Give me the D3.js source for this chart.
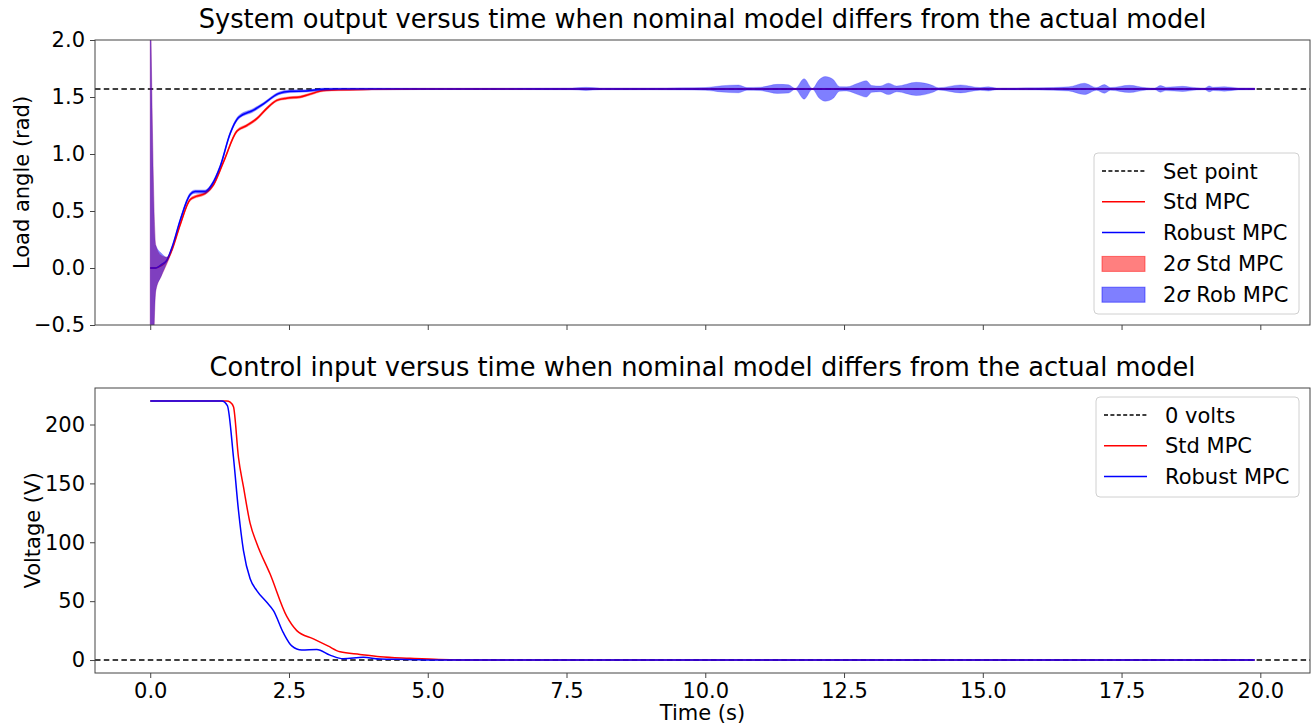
<!DOCTYPE html>
<html>
<head>
<meta charset="utf-8">
<script src="https://cdn.jsdelivr.net/npm/d3@7"></script>
<style>
  body { margin: 0; background: #fff; }
  svg { display: block; font-family: "DejaVu Sans", sans-serif; }
</style>
</head>
<body>
<svg id="chart" width="1312" height="725"></svg>
<script>
/* System output / control input, nominal vs actual model — two stacked panels */

const SET_POINT = 1.5708;
const X_TICKS = [0, 2.5, 5, 7.5, 10, 12.5, 15, 17.5, 20];
const Y_TICKS_TOP = [-0.5, 0, 0.5, 1.0, 1.5, 2.0];
const Y_TICKS_BOT = [0, 50, 100, 150, 200];

// Std MPC load angle: time, mean, 2-sigma half width
const stdT    = [0, 0.1, 0.2, 0.3, 0.4, 0.54, 0.72, 0.84, 0.99, 1.14, 1.32, 1.56, 1.74, 1.92, 2.1, 2.28, 2.46, 2.7, 2.88, 3.12, 3.42, 4.0, 5.0, 10.0, 15.0, 19.9];
const stdMean = [0, 0.0, 0.02, 0.065, 0.17, 0.38, 0.6, 0.63, 0.655, 0.73, 0.93, 1.2, 1.25, 1.31, 1.40, 1.47, 1.49, 1.50, 1.525, 1.556, 1.563, 1.567, 1.571, 1.571, 1.571, 1.571];
const stdBand = [2.5, 0.2, 0.09, 0.03, 0.015, 0.012, 0.012, 0.012, 0.012, 0.012, 0.012, 0.012, 0.012, 0.012, 0.012, 0.01, 0.01, 0.01, 0.01, 0.008, 0.008, 0.006, 0.005, 0.005, 0.005, 0.005];

// Robust MPC load angle: time, mean, 2-sigma half width
const robT = [0, 0.1, 0.2, 0.3, 0.4, 0.54, 0.72, 0.81, 0.99, 1.11, 1.26, 1.44, 1.59, 1.86, 2.04, 2.31, 2.52, 2.82, 3.12, 3.5,
  4.0, 5.0, 6.0, 7.0, 7.6, 7.85, 8.1, 9.0, 9.6, 10.0, 10.3, 10.6, 10.75, 11.0, 11.3, 11.5, 11.62, 11.78, 11.93,
  12.05, 12.16, 12.3, 12.42, 12.55, 12.75, 12.9, 13.0, 13.15, 13.3, 13.45, 13.8, 14.1, 14.2, 14.6, 14.95, 15.1, 15.25,
  16.0, 16.55, 16.83, 17.05, 17.19, 17.3, 17.64, 17.95, 18.1, 18.2, 18.3, 18.6, 18.85, 19.0, 19.08, 19.15, 19.35, 19.6, 19.9];
const robMean = [0, 0.0, 0.03, 0.07, 0.19, 0.42, 0.645, 0.67, 0.67, 0.73, 0.89, 1.18, 1.32, 1.385, 1.44, 1.53, 1.55, 1.553, 1.568, 1.571,
  1.571, 1.571, 1.571, 1.571, 1.571, 1.571, 1.571, 1.571, 1.571, 1.571, 1.571, 1.571, 1.571, 1.571, 1.571, 1.571, 1.571, 1.571, 1.571,
  1.571, 1.571, 1.571, 1.571, 1.571, 1.571, 1.571, 1.571, 1.571, 1.571, 1.571, 1.571, 1.571, 1.571, 1.571, 1.571, 1.571, 1.571,
  1.571, 1.571, 1.571, 1.571, 1.571, 1.571, 1.571, 1.571, 1.571, 1.571, 1.571, 1.571, 1.571, 1.571, 1.571, 1.571, 1.571, 1.571, 1.571];
const robBand = [2.5, 0.2, 0.1, 0.025, 0.015, 0.015, 0.015, 0.015, 0.015, 0.015, 0.015, 0.015, 0.015, 0.015, 0.012, 0.012, 0.012, 0.01, 0.01, 0.008,
  0.008, 0.006, 0.006, 0.007, 0.008, 0.014, 0.008, 0.008, 0.01, 0.012, 0.028, 0.034, 0.012, 0.015, 0.04, 0.036, 0.004, 0.09, 0.004,
  0.08, 0.108, 0.085, 0.02, 0.018, 0.05, 0.072, 0.03, 0.025, 0.05, 0.025, 0.058, 0.03, 0.01, 0.035, 0.012, 0.018, 0.008,
  0.01, 0.018, 0.05, 0.012, 0.038, 0.012, 0.032, 0.01, 0.008, 0.029, 0.015, 0.023, 0.01, 0.008, 0.026, 0.014, 0.02, 0.009, 0.008];

// Control input (V)
const stdVT = [0, 1.38, 1.44, 1.50, 1.59, 1.68, 1.80, 1.92, 2.16, 2.46, 2.64, 2.94, 3.2, 3.42, 3.78, 4.14, 4.68, 5.2, 6.0, 19.9];
const stdV  = [220, 220, 219, 215, 172, 147, 116, 99, 73, 37, 25, 18, 12, 7, 4.8, 2.8, 1.5, 0.5, 0, 0];
const robVT = [0, 1.29, 1.39, 1.50, 1.59, 1.68, 1.80, 1.92, 2.10, 2.22, 2.40, 2.55, 2.73, 3.0, 3.24, 3.48, 3.84, 4.14, 4.62, 5.2, 19.9];
const robV  = [220, 220, 216, 172, 127, 93, 69, 59, 49, 42, 23, 12, 8.5, 9, 4.2, 1.1, 2.3, 0.8, 0.5, 0, 0];

const svg = d3.select('#chart');
const LEFT = 95, RIGHT = 1310;
const TOP1 = 40, BOT1 = 325, TOP2 = 388, BOT2 = 673;
const FONT = 21;
const SPINE = '#444';

const x = d3.scaleLinear().domain([-0.995, 20.895]).range([LEFT, RIGHT]);
const yTop = d3.scaleLinear().domain([-0.5, 2.0]).range([BOT1, TOP1]);
const yBot = d3.scaleLinear().domain([-11, 231]).range([BOT2, TOP2]);

const fmt1 = d => d3.format('.1f')(d).replace('-', '\u2212');

function zip(ts, vs, bs) {
    return ts.map((t, i) => ({ t, v: vs[i], b: bs ? bs[i] : 0 }));
}

function clip(id, y0, y1) {
    svg.append('clipPath').attr('id', id)
        .append('rect').attr('x', LEFT).attr('y', y0).attr('width', RIGHT - LEFT).attr('height', y1 - y0);
}

function frame(g, y0, y1, y, yTicks, yFmt, showX) {
    g.append('rect')
        .attr('x', LEFT).attr('y', y0).attr('width', RIGHT - LEFT).attr('height', y1 - y0)
        .attr('fill', 'none').attr('stroke', SPINE).attr('stroke-width', 1);

    const yAxis = d3.axisLeft(y).tickValues(yTicks).tickFormat(yFmt).tickSize(5).tickPadding(5);
    g.append('g').attr('transform', `translate(${LEFT},0)`).call(yAxis)
        .call(a => a.select('.domain').remove())
        .call(a => a.selectAll('line').attr('stroke', SPINE))
        .call(a => a.selectAll('text').attr('font-size', FONT).attr('font-family', 'DejaVu Sans').attr('fill', '#000'));

    const xAxis = d3.axisBottom(x).tickValues(X_TICKS).tickFormat(showX ? d3.format('.1f') : '').tickSize(5).tickPadding(5);
    g.append('g').attr('transform', `translate(0,${y1})`).call(xAxis)
        .call(a => a.select('.domain').remove())
        .call(a => a.selectAll('line').attr('stroke', SPINE))
        .call(a => a.selectAll('text').attr('font-size', FONT).attr('font-family', 'DejaVu Sans').attr('fill', '#000'));
}

function legend(g, x0, y0, w, h, items) {
    const lg = g.append('g');
    lg.append('rect')
        .attr('x', x0).attr('y', y0).attr('width', w).attr('height', h)
        .attr('rx', 4).attr('fill', '#fff').attr('fill-opacity', 0.8)
        .attr('stroke', '#d0d0d0').attr('stroke-width', 1);
    items.forEach((it, i) => {
        const cy = y0 + 18 + i * 30.8;
        if (it.kind === 'patch') {
            lg.append('rect')
                .attr('x', x0 + 8).attr('y', cy - 7).attr('width', 43).attr('height', 15)
                .attr('fill', it.color).attr('fill-opacity', 0.5)
                .attr('stroke', it.color).attr('stroke-opacity', 0.5);
        } else {
            lg.append('line')
                .attr('x1', x0 + 8).attr('x2', x0 + 51).attr('y1', cy).attr('y2', cy)
                .attr('stroke', it.color).attr('stroke-width', 1.5)
                .attr('stroke-dasharray', it.dash ? '4,2.4' : null);
        }
        const txt = lg.append('text')
            .attr('x', x0 + 69).attr('y', cy).attr('dy', '0.36em')
            .attr('font-size', FONT).attr('fill', '#000');
        if (it.sigma) {
            txt.append('tspan').text('2');
            txt.append('tspan').attr('font-style', 'italic').text('\u03c3');
            txt.append('tspan').text(' ' + it.label);
        } else {
            txt.text(it.label);
        }
    });
}

clip('clipTop', TOP1, BOT1);
clip('clipBot', TOP2, BOT2);

/* ── Top panel: load angle ─────────────────────────── */
const topPanel = svg.append('g');
const plotTop = topPanel.append('g').attr('clip-path', 'url(#clipTop)');

plotTop.append('line')
    .attr('x1', LEFT).attr('x2', RIGHT).attr('y1', yTop(SET_POINT)).attr('y2', yTop(SET_POINT))
    .attr('stroke', '#000').attr('stroke-width', 1.5).attr('stroke-dasharray', '5.5,3.3');

const stdData = zip(stdT, stdMean, stdBand);
const robData = zip(robT, robMean, robBand);

const lineTop = d3.line().x(d => x(d.t)).y(d => yTop(d.v)).curve(d3.curveMonotoneX);
const areaTop = d3.area().x(d => x(d.t))
    .y0(d => yTop(d.v - d.b)).y1(d => yTop(d.v + d.b)).curve(d3.curveMonotoneX);

plotTop.append('path').datum(stdData).attr('d', lineTop)
    .attr('fill', 'none').attr('stroke', '#ff0000').attr('stroke-width', 1.5);
plotTop.append('path').datum(robData).attr('d', lineTop)
    .attr('fill', 'none').attr('stroke', '#0000ff').attr('stroke-width', 1.5);
plotTop.append('path').datum(stdData).attr('d', areaTop)
    .attr('fill', '#ff0000').attr('fill-opacity', 0.5).attr('stroke', '#ff0000').attr('stroke-opacity', 0.25).attr('stroke-width', 0.8);
plotTop.append('path').datum(robData).attr('d', areaTop)
    .attr('fill', '#0000ff').attr('fill-opacity', 0.5).attr('stroke', '#0000ff').attr('stroke-opacity', 0.25).attr('stroke-width', 0.8);

frame(topPanel, TOP1, BOT1, yTop, Y_TICKS_TOP, fmt1, false);

topPanel.append('text')
    .attr('x', (LEFT + RIGHT) / 2).attr('y', 28).attr('text-anchor', 'middle')
    .attr('font-size', 25.7).text('System output versus time when nominal model differs from the actual model');
topPanel.append('text')
    .attr('transform', `translate(29,${(TOP1 + BOT1) / 2}) rotate(-90)`)
    .attr('text-anchor', 'middle').attr('font-size', FONT).text('Load angle (rad)');

legend(topPanel, 1094, 153, 205, 161, [
    { label: 'Set point', color: '#000', dash: true },
    { label: 'Std MPC', color: '#ff0000' },
    { label: 'Robust MPC', color: '#0000ff' },
    { label: 'Std MPC', color: '#ff0000', kind: 'patch', sigma: true },
    { label: 'Rob MPC', color: '#0000ff', kind: 'patch', sigma: true },
]);

/* ── Bottom panel: control input ───────────────────── */
const botPanel = svg.append('g');
const plotBot = botPanel.append('g').attr('clip-path', 'url(#clipBot)');

plotBot.append('line')
    .attr('x1', LEFT).attr('x2', RIGHT).attr('y1', yBot(0)).attr('y2', yBot(0))
    .attr('stroke', '#000').attr('stroke-width', 1.5).attr('stroke-dasharray', '5.5,3.3');

const lineBot = d3.line().x(d => x(d.t)).y(d => yBot(d.v)).curve(d3.curveMonotoneX);
plotBot.append('path').datum(zip(stdVT, stdV)).attr('d', lineBot)
    .attr('fill', 'none').attr('stroke', '#ff0000').attr('stroke-width', 1.5);
plotBot.append('path').datum(zip(robVT, robV)).attr('d', lineBot)
    .attr('fill', 'none').attr('stroke', '#0000ff').attr('stroke-width', 1.5);

frame(botPanel, TOP2, BOT2, yBot, Y_TICKS_BOT, d3.format('d'), true);

botPanel.append('text')
    .attr('x', (LEFT + RIGHT) / 2).attr('y', 376).attr('text-anchor', 'middle')
    .attr('font-size', 25.7).text('Control input versus time when nominal model differs from the actual model');
botPanel.append('text')
    .attr('transform', `translate(40,${(TOP2 + BOT2) / 2}) rotate(-90)`)
    .attr('text-anchor', 'middle').attr('font-size', FONT).text('Voltage (V)');
botPanel.append('text')
    .attr('x', (LEFT + RIGHT) / 2).attr('y', 720).attr('text-anchor', 'middle')
    .attr('font-size', FONT).text('Time (s)');

legend(botPanel, 1096, 397, 203, 100, [
    { label: '0 volts', color: '#000', dash: true },
    { label: 'Std MPC', color: '#ff0000' },
    { label: 'Robust MPC', color: '#0000ff' },
]);
</script>
</body>
</html>
